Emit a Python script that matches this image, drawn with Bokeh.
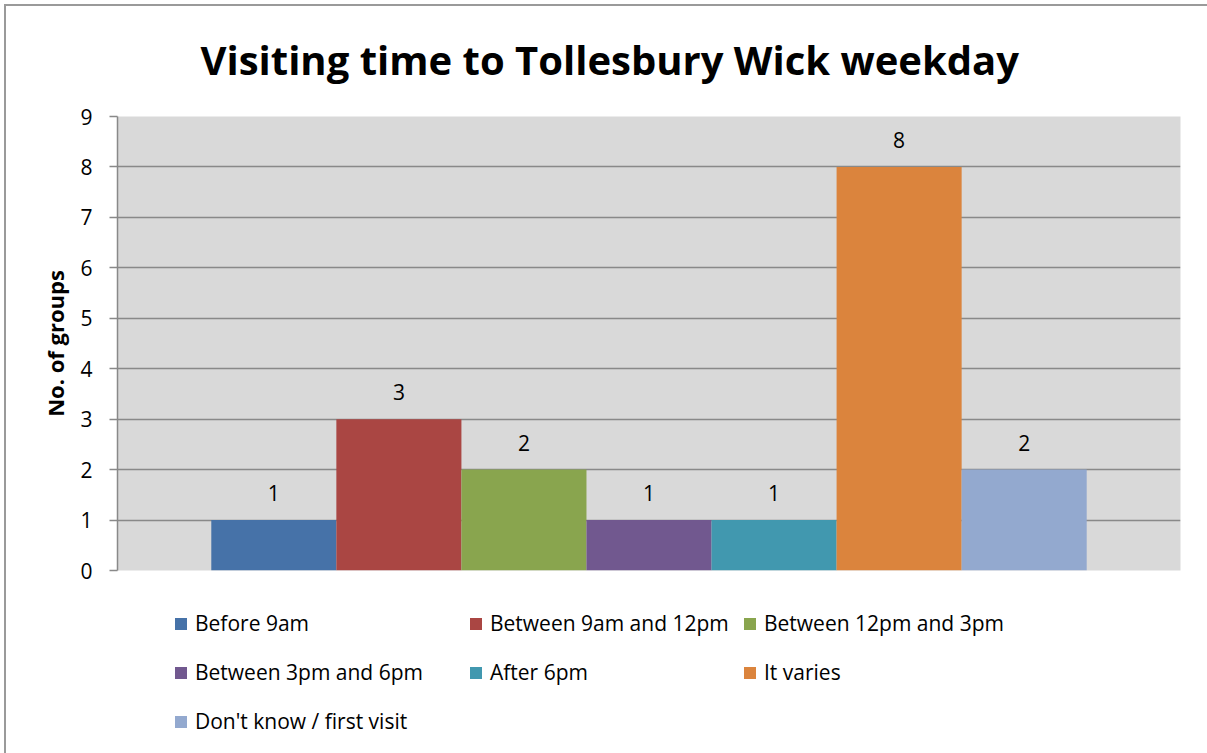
from bokeh.plotting import figure
from bokeh.layouts import column
from bokeh.models import FactorRange, Range1d, FixedTicker, Legend, LegendItem, ColumnDataSource
from bokeh.embed import file_html
from bokeh.resources import INLINE
from bokeh.core.properties import value

# ---- data ----
categories = ["Before 9am", "Between 9am and 12pm", "Between 12pm and 3pm",
              "Between 3pm and 6pm", "After 6pm", "It varies", "Don't know / first visit"]
counts = [1, 3, 2, 1, 1, 8, 2]
colors = ["#4672A8", "#AA4643", "#89A54E", "#71588F", "#4198AF", "#DB843D", "#93A9CF"]
y_ticks = [0, 1, 2, 3, 4, 5, 6, 7, 8, 9]
title_text = "Visiting time to Tollesbury Wick weekday"
y_label = "No. of groups"

FONT = "Open Sans"
GRID = "#898989"
W, H = 1207, 753

src = ColumnDataSource(dict(cat=categories, count=counts, color=colors,
                            label=[str(c) for c in counts]))

xr = FactorRange(factors=categories, range_padding=0.75, range_padding_units="absolute")

MAIN_H = 588
p = figure(width=W, height=MAIN_H, output_backend="svg", toolbar_location=None,
           x_range=xr, y_range=Range1d(0, 9),
           min_border_left=117, min_border_right=W - 1180, min_border_top=116,
           min_border_bottom=MAIN_H - 570)

p.background_fill_color = "#D9D9D9"
p.border_fill_color = None
p.outline_line_color = None

# title
p.title.text = title_text
p.title.align = "left"
p.title.offset = 83
p.title.text_font = FONT
p.title.text_font_style = "bold"
p.title.text_font_size = "40px"
p.title.text_color = "black"
p.title.standoff = 59

bars = p.vbar(x="cat", top="count", width=1.0, fill_color="color", line_color=None, source=src)

p.text(x="cat", y="count", text="label", source=src, text_align="center",
       text_baseline="alphabetic", y_offset=-27, text_font=value(FONT),
       text_font_size="21px", text_color="black")

# axes
p.xgrid.grid_line_color = None
p.ygrid.grid_line_color = GRID
p.ygrid.grid_line_width = 1.5
p.yaxis.ticker = FixedTicker(ticks=y_ticks)
p.yaxis.axis_line_color = GRID
p.yaxis.axis_line_width = 1.5
p.yaxis.major_tick_line_color = GRID
p.yaxis.major_tick_line_width = 1.5
p.yaxis.major_tick_out = 8
p.yaxis.major_tick_in = 0
p.yaxis.minor_tick_line_color = None
p.yaxis.major_label_standoff = 17
p.yaxis.major_label_text_font = FONT
p.yaxis.major_label_text_font_size = "21px"
p.yaxis.major_label_text_color = "black"
p.yaxis.axis_label = y_label
p.yaxis.axis_label_text_font = FONT
p.yaxis.axis_label_text_font_style = "bold"
p.yaxis.axis_label_text_font_size = "22px"
p.yaxis.axis_label_text_color = "black"
p.yaxis.axis_label_standoff = 7
p.xaxis.visible = False

# ---- legend strip below the chart (same bars, kept out of view) ----
LEG_H = H - MAIN_H
q = figure(width=W, height=LEG_H, output_backend="svg", toolbar_location=None,
           x_range=xr, y_range=Range1d(100, 101),
           min_border_left=0, min_border_right=0, min_border_top=0, min_border_bottom=0)
q.xaxis.visible = False
q.yaxis.visible = False
q.grid.grid_line_color = None
q.outline_line_color = None
q.background_fill_color = None
q.border_fill_color = None
legend_bars = q.vbar(x="cat", top="count", width=1.0, fill_color="color",
                     line_color=None, source=src)

cols = [[0, 3, 6], [1, 4], [2, 5]]          # row-wise order, 3 columns
col_x = [56, 351, 625]                      # offsets from the plot-area left edge
item_h, gap = 29, 20
top_gap = 608.5 - MAIN_H
for idxs, cx in zip(cols, col_x):
    n = len(idxs)
    h = n * item_h + (n - 1) * gap
    items = [LegendItem(label=categories[i], renderers=[legend_bars], index=i) for i in idxs]
    lg = Legend(items=items, location=(cx, LEG_H - top_gap - h), orientation="vertical",
                padding=0, margin=0, spacing=gap, border_line_color=None,
                background_fill_alpha=0, glyph_width=15, glyph_height=15,
                label_height=item_h, label_standoff=7,
                label_text_font=FONT, label_text_font_size="21px",
                label_text_color="black", label_text_baseline="middle")
    q.add_layout(lg, "center")

layout = column(p, q, spacing=0)
# chart-area border (left and top edges, as visible in the reference)
layout.styles = {
    "background": "linear-gradient(#9a9a9a, #9a9a9a) 4px 4px / 2px calc(100% - 4px) no-repeat, "
                  "linear-gradient(#9a9a9a, #9a9a9a) 4px 4px / calc(100% - 4px) 2px no-repeat, white"
}
open("out.html", "w").write(file_html(layout, INLINE))
